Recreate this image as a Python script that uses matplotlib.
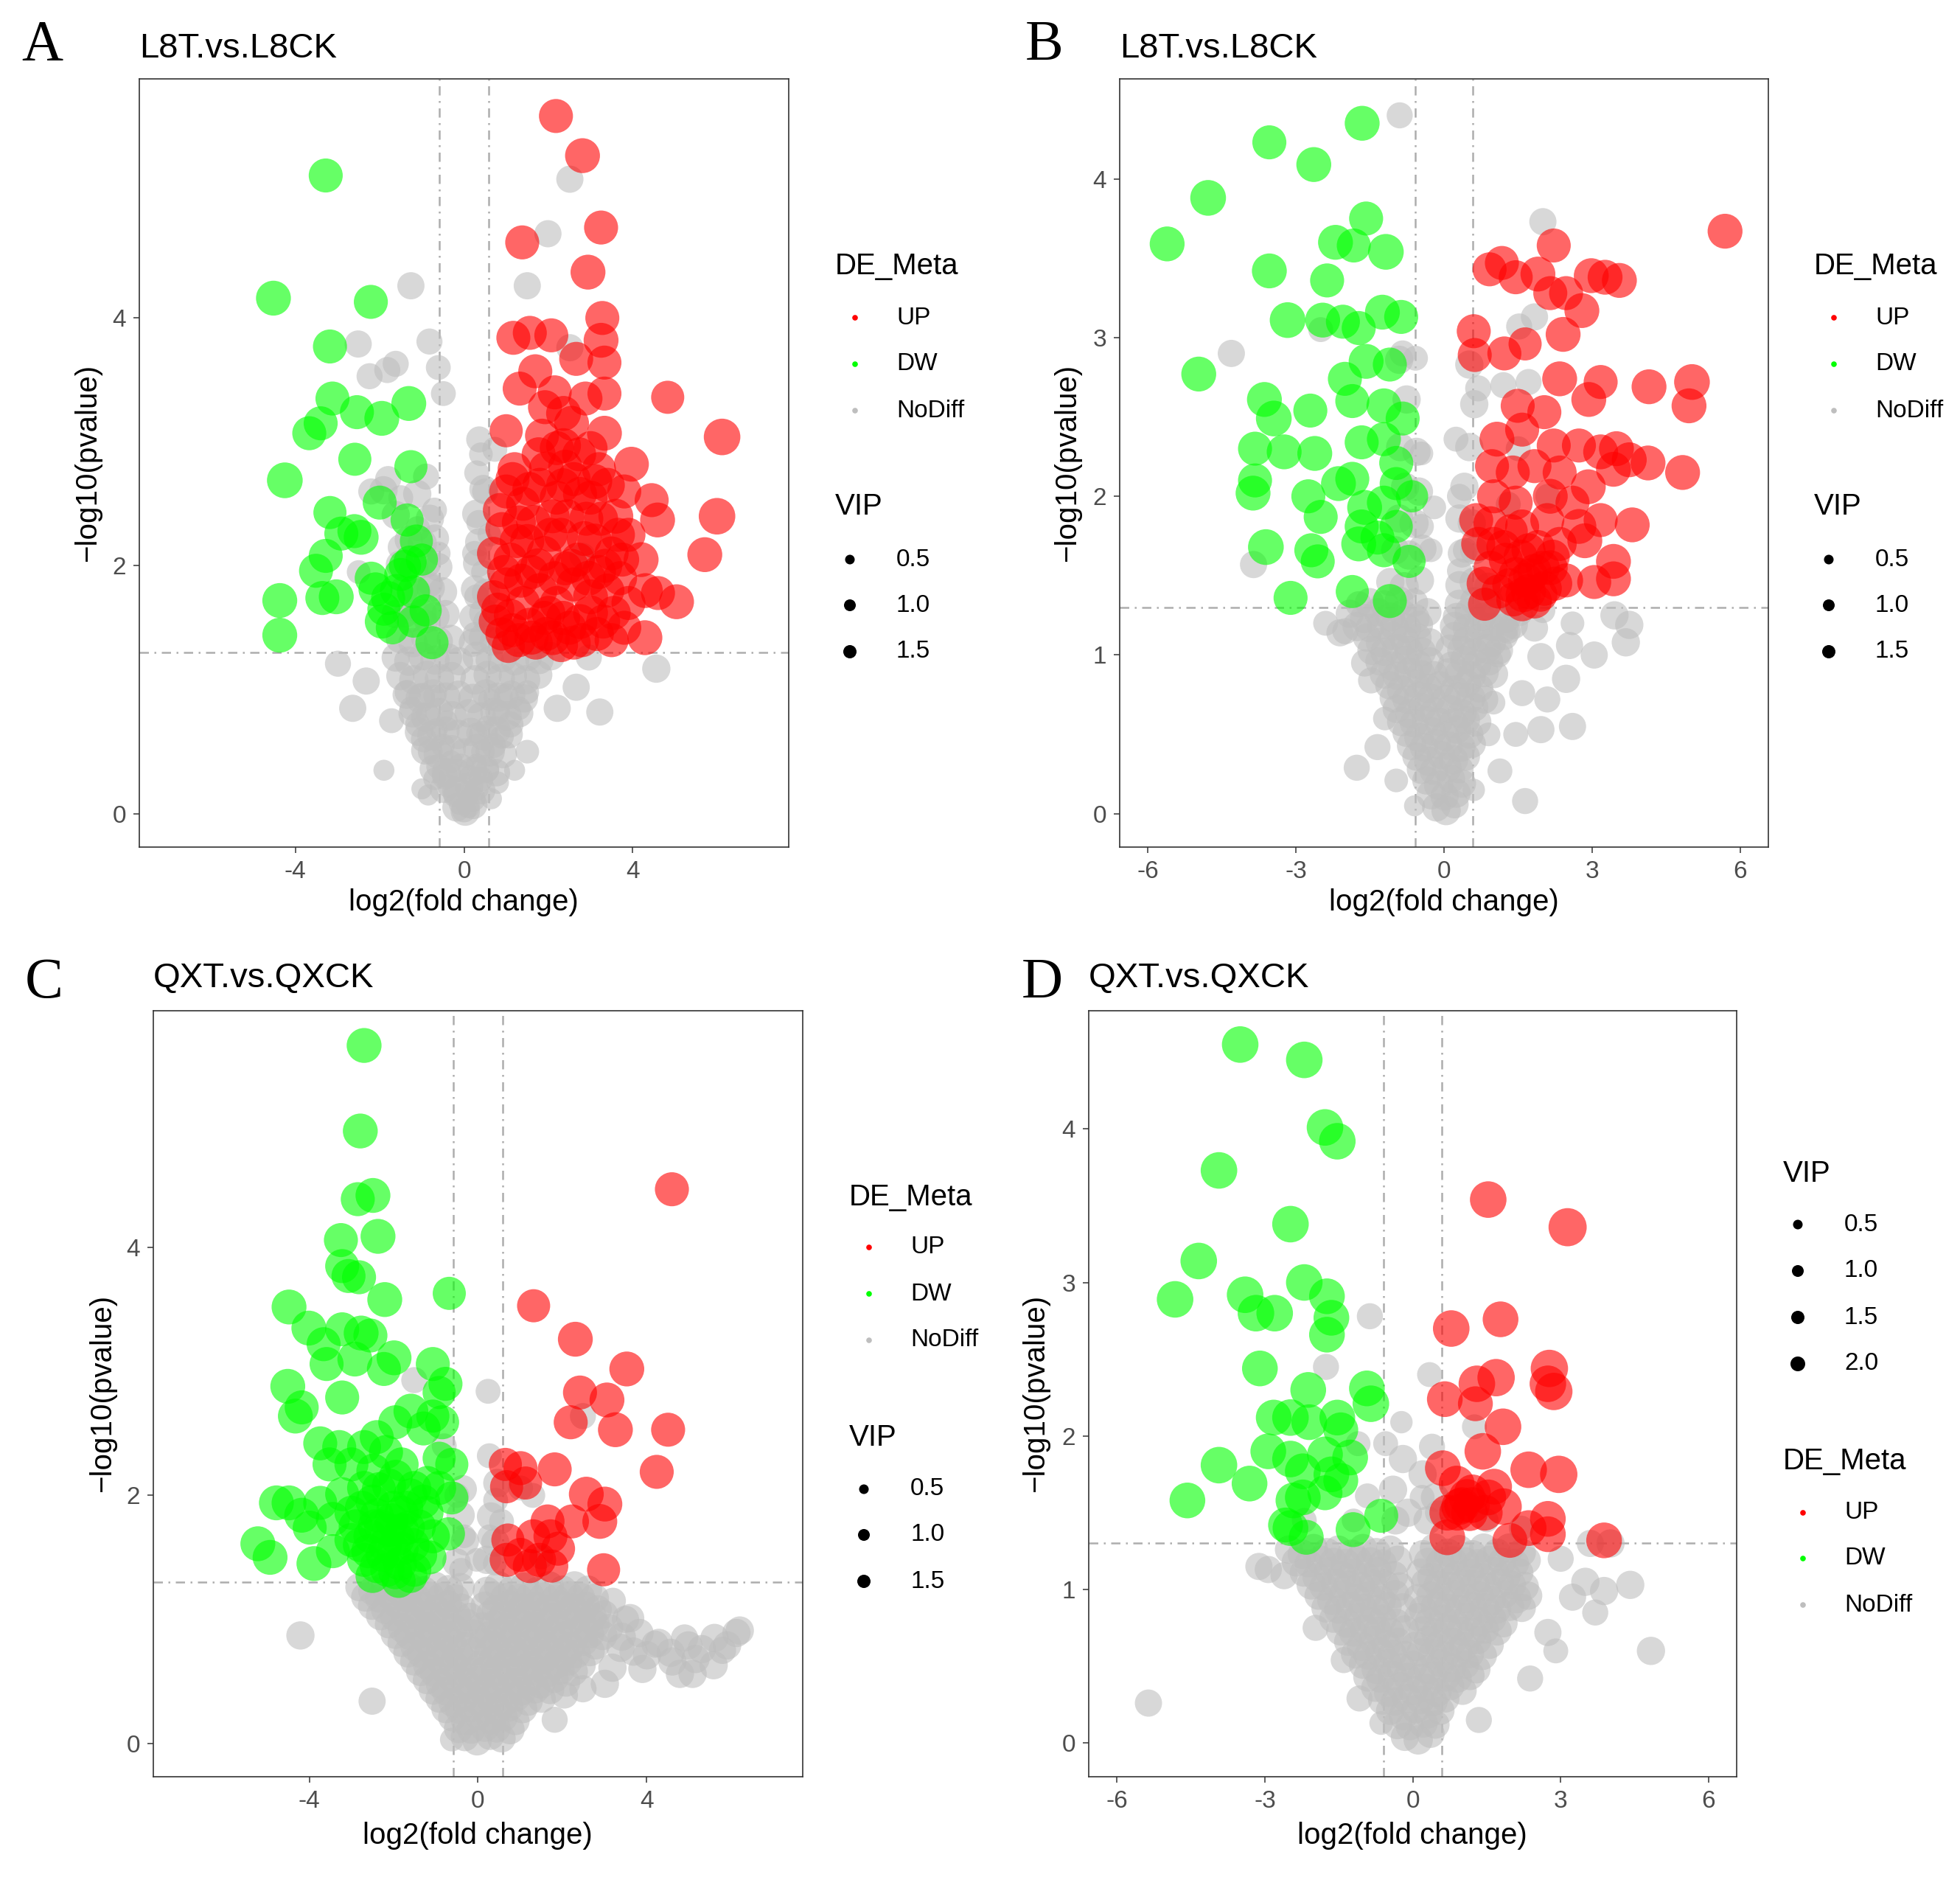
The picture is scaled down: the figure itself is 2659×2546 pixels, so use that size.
import matplotlib
matplotlib.use("Agg")
import matplotlib.pyplot as plt

plt.rcParams['font.family'] = ['Liberation Sans', 'DejaVu Sans']
plt.rcParams['axes.unicode_minus'] = False

RED, GREEN, GREY = '#FF0000', '#00FF00', '#BEBEBE'

# ---------------- data: (log2 fold change, -log10 p, VIP) ----------------
# panel A  L8T.vs.L8CK
a_up = [
    (2.18, 5.63, 1.5), (2.81, 5.31, 1.6), (3.25, 4.73, 1.5), (1.38, 4.61, 1.5), (2.94, 4.37, 1.6), (3.28, 4.00, 1.5),
    (3.25, 3.82, 1.6), (3.33, 3.64, 1.5), (1.17, 3.84, 1.5), (1.56, 3.88, 1.5), (2.07, 3.86, 1.5), (2.66, 3.67, 1.5),
    (1.69, 3.57, 1.5), (3.33, 3.39, 1.5), (4.83, 3.36, 1.4), (6.12, 3.04, 1.8), (1.32, 3.43, 1.5), (1.92, 3.28, 1.5),
    (2.36, 3.23, 1.6), (2.88, 3.35, 1.5), (3.33, 3.07, 1.6), (1.00, 3.09, 1.4), (1.77, 2.90, 1.5), (2.36, 2.97, 1.6),
    (2.73, 2.90, 1.5), (3.97, 2.82, 1.6), (6.00, 2.40, 1.8), (5.71, 2.09, 1.6), (5.04, 1.71, 1.6), (4.59, 2.37, 1.6),
    (4.45, 2.53, 1.5), (4.29, 1.42, 1.6),
    (0.9, 1.45, 1.4), (1.3, 1.40, 1.5), (1.7, 1.38, 1.5), (2.1, 1.42, 1.6), (2.5, 1.50, 1.5), (2.8, 1.40, 1.5),
    (3.3, 1.55, 1.5), (3.8, 1.50, 1.5), (1.1, 1.60, 1.4), (1.9, 1.58, 1.5), (3.0, 1.62, 1.6), (2.3, 1.36, 1.5),
    (0.7, 1.75, 1.4), (1.0, 1.85, 1.5), (1.4, 1.70, 1.5), (1.8, 1.80, 1.6), (2.2, 1.70, 1.5), (2.6, 1.85, 1.5),
    (3.0, 1.75, 1.6), (3.4, 1.80, 1.5), (3.9, 1.70, 1.5), (4.3, 1.80, 1.6), (1.6, 1.95, 1.5), (2.4, 1.98, 1.5),
    (3.2, 1.95, 1.5), (3.7, 1.90, 1.5), (0.8, 1.65, 1.4), (4.6, 1.78, 1.5),
    (0.7, 2.10, 1.4), (1.1, 2.05, 1.5), (1.5, 2.20, 1.5), (1.9, 2.10, 1.6), (2.3, 2.25, 1.5), (2.7, 2.05, 1.5),
    (3.1, 2.20, 1.6), (3.5, 2.10, 1.5), (3.9, 2.25, 1.5), (4.2, 2.05, 1.6), (1.3, 2.35, 1.5), (2.1, 2.40, 1.5),
    (2.9, 2.38, 1.5), (3.6, 2.40, 1.6), (0.9, 2.30, 1.4),
    (1.0, 2.60, 1.5), (1.4, 2.50, 1.5), (1.8, 2.65, 1.6), (2.2, 2.55, 1.5), (2.6, 2.70, 1.5), (3.0, 2.55, 1.5),
    (3.4, 2.65, 1.6), (3.8, 2.60, 1.5), (1.2, 2.78, 1.5), (2.4, 2.80, 1.5), (3.2, 2.78, 1.5),
    (0.75, 1.55, 1.5), (1.15, 1.48, 1.5), (1.55, 1.52, 1.6), (1.95, 1.45, 1.5), (2.35, 1.58, 1.5), (2.75, 1.55, 1.6),
    (3.15, 1.45, 1.5), (3.55, 1.62, 1.5), (0.95, 1.95, 1.5), (1.35, 1.88, 1.5), (1.75, 2.00, 1.6), (2.15, 1.90, 1.5),
    (2.55, 2.00, 1.5), (2.95, 1.90, 1.6), (3.35, 2.00, 1.5), (3.75, 2.05, 1.5), (0.85, 2.45, 1.5), (1.25, 2.20, 1.5),
    (1.65, 2.35, 1.6), (2.05, 2.25, 1.5), (2.45, 2.40, 1.5), (2.85, 2.22, 1.6), (3.25, 2.38, 1.5), (3.65, 2.25, 1.5),
    (1.15, 2.70, 1.5), (1.55, 2.62, 1.5), (1.95, 2.78, 1.6), (2.35, 2.65, 1.5), (2.75, 2.58, 1.5), (3.10, 2.68, 1.6),
    (1.60, 1.42, 1.5), (2.60, 1.38, 1.5), (1.05, 1.35, 1.4), (2.00, 1.62, 1.5), (3.50, 1.40, 1.5), (1.85, 3.05, 1.5),
    (2.15, 3.40, 1.5), (2.55, 3.15, 1.6), (2.20, 2.95, 1.5), (3.00, 2.95, 1.5),
]
a_dw = [
    (-3.28, 5.15, 1.5), (-4.52, 4.16, 1.6), (-2.21, 4.13, 1.5), (-3.18, 3.77, 1.5), (-3.12, 3.35, 1.5), (-1.31, 3.31, 1.6),
    (-2.54, 3.24, 1.5), (-1.95, 3.19, 1.6), (-3.40, 3.15, 1.5), (-3.67, 3.07, 1.5), (-2.59, 2.86, 1.4), (-1.26, 2.80, 1.4),
    (-4.25, 2.69, 1.7), (-2.00, 2.51, 1.5), (-3.18, 2.43, 1.4), (-1.35, 2.37, 1.4), (-2.91, 2.26, 1.5), (-2.44, 2.23, 1.6),
    (-2.60, 2.28, 1.5), (-3.28, 2.08, 1.5), (-1.13, 2.20, 1.4), (-3.51, 1.96, 1.5), (-2.10, 1.81, 1.5), (-4.37, 1.72, 1.6),
    (-3.36, 1.74, 1.5), (-3.03, 1.75, 1.6), (-1.80, 1.74, 1.5), (-1.20, 1.79, 1.4), (-1.95, 1.55, 1.5), (-4.37, 1.44, 1.6),
    (-0.76, 1.38, 1.4), (-0.91, 1.64, 1.3), (-1.50, 1.93, 1.4), (-1.28, 2.03, 1.4),
    (-1.9, 1.65, 1.4), (-1.6, 1.80, 1.4), (-1.4, 2.00, 1.3), (-2.2, 1.90, 1.4), (-1.7, 1.50, 1.4), (-1.2, 1.55, 1.3),
    (-1.0, 2.05, 1.3),
]
a_no = [
    (0.00, 0.03, 0.6), (0.10, 0.06, 0.5), (-0.10, 0.08, 0.4), (0.20, 0.12, 0.7), (-0.20, 0.15, 0.6), (0.05, 0.18, 0.3),
    (0.30, 0.20, 0.5), (-0.35, 0.22, 0.5), (0.40, 0.28, 0.6), (-0.45, 0.30, 0.7), (0.15, 0.30, 0.4), (-0.15, 0.35, 0.5),
    (0.55, 0.35, 0.5), (-0.60, 0.38, 0.6), (0.30, 0.40, 0.3), (-0.30, 0.42, 0.4), (-0.85, 0.15, 0.3), (-0.70, 0.28, 0.4),
    (0.80, 0.25, 0.4), (0.65, 0.12, 0.3),
    (-0.80, 0.50, 0.6), (-0.50, 0.55, 0.5), (0.45, 0.50, 0.5), (0.70, 0.55, 0.6), (-0.95, 0.60, 0.7), (0.90, 0.62, 0.5),
    (-0.65, 0.68, 0.4), (0.55, 0.70, 0.4), (-1.10, 0.72, 0.6), (1.10, 0.72, 0.7), (-0.85, 0.80, 0.5), (0.80, 0.82, 0.6),
    (-1.25, 0.85, 0.5), (1.30, 0.85, 0.5), (-0.40, 0.75, 0.3), (0.30, 0.65, 0.3), (-1.00, 0.95, 0.7), (1.00, 0.95, 0.6),
    (-1.35, 0.98, 0.6), (1.50, 0.98, 0.5), (-0.70, 0.95, 0.4), (0.60, 0.92, 0.4),
    (-2.64, 0.85, 0.8), (-1.72, 0.75, 0.6), (-2.99, 1.21, 0.7), (-2.32, 1.07, 0.8), (2.21, 0.85, 0.8), (3.22, 0.82, 0.8),
    (2.96, 1.26, 0.7), (2.66, 1.02, 0.8), (4.56, 1.17, 0.9), (-1.90, 0.35, 0.3), (-1.00, 0.20, 0.3), (1.50, 0.50, 0.5),
    (1.20, 0.35, 0.3),
    (-2.20, 2.60, 0.7), (-1.80, 2.70, 0.7), (-1.50, 2.55, 0.6), (-0.90, 2.72, 0.7), (-0.70, 2.45, 0.6), (-1.10, 2.30, 0.6),
    (-0.60, 2.10, 0.5), (-0.80, 1.85, 0.6), (-2.50, 1.95, 0.5), (-1.50, 2.15, 0.7), (-1.40, 1.60, 0.6), (-0.90, 1.55, 0.5),
    (2.51, 5.12, 0.8), (1.99, 4.68, 0.8), (1.50, 4.26, 0.8), (-1.26, 4.26, 0.8), (-2.51, 3.79, 0.8), (-0.82, 3.81, 0.7),
    (-0.61, 3.60, 0.6), (-1.62, 3.63, 0.7), (-1.82, 3.58, 0.7), (-2.24, 3.53, 0.7), (-0.49, 3.39, 0.6), (2.51, 3.76, 0.8),
    (0.36, 3.02, 0.7), (0.73, 2.94, 0.6), (2.81, 2.08, 0.7),
    (0.30, 2.75, 0.6), (0.50, 2.60, 0.7), (0.35, 2.35, 0.6), (0.25, 2.10, 0.6), (0.45, 1.95, 0.5), (0.30, 1.75, 0.6),
    (0.50, 1.55, 0.5), (0.25, 1.45, 0.5), (0.60, 2.25, 0.5), (0.40, 2.90, 0.5),
]
a_core = [
    (-0.18, 0.05, 0.9), (0.03, 0.02, 1.0), (0.22, 0.07, 0.9),
    (-0.48, 0.20, 0.9), (-0.17, 0.18, 1.0), (0.12, 0.22, 0.9), (0.41, 0.19, 0.9),
    (-0.72, 0.36, 0.9), (-0.42, 0.33, 1.0), (-0.08, 0.37, 0.9), (0.21, 0.34, 1.0), (0.50, 0.36, 0.9), (0.77, 0.33, 0.8),
    (-0.92, 0.51, 0.9), (-0.61, 0.48, 1.0), (-0.29, 0.52, 0.9), (0.02, 0.49, 1.0), (0.31, 0.53, 0.9), (0.62, 0.50, 1.0),
    (0.92, 0.48, 0.9),
    (-1.07, 0.66, 0.9), (-0.76, 0.63, 1.0), (-0.44, 0.67, 0.9), (-0.14, 0.64, 1.0), (0.16, 0.66, 0.9), (0.46, 0.63, 1.0),
    (0.77, 0.67, 0.9), (1.06, 0.64, 0.9),
    (-1.22, 0.81, 0.9), (-0.91, 0.78, 1.0), (-0.59, 0.82, 0.9), (-0.28, 0.79, 1.0), (0.11, 0.81, 0.9), (0.41, 0.78, 1.0),
    (0.72, 0.82, 0.9), (1.02, 0.79, 1.0), (1.31, 0.81, 0.9),
    (-1.36, 0.96, 0.9), (-1.04, 0.93, 1.0), (-0.74, 0.97, 0.9), (-0.43, 0.94, 1.0), (-0.13, 0.96, 0.9), (0.21, 0.93, 1.0),
    (0.52, 0.97, 0.9), (0.81, 0.94, 1.0), (1.12, 0.96, 0.9), (1.42, 0.93, 0.9),
    (-1.51, 1.11, 0.9), (-1.19, 1.08, 1.0), (-0.88, 1.12, 0.9), (-0.58, 1.09, 1.0), (-0.29, 1.11, 0.9), (0.26, 1.08, 1.0),
    (0.56, 1.12, 0.9), (0.86, 1.09, 1.0), (1.16, 1.11, 0.9), (1.46, 1.08, 1.0), (1.76, 1.12, 0.9),
    (-1.62, 1.26, 0.9), (-1.31, 1.23, 1.0), (-0.99, 1.27, 0.9), (-0.69, 1.24, 1.0), (-0.38, 1.26, 0.9), (-0.12, 1.23, 0.9),
    (0.31, 1.27, 1.0), (0.61, 1.24, 0.9), (0.91, 1.26, 1.0), (1.21, 1.23, 0.9), (1.51, 1.27, 1.0), (1.79, 1.24, 0.9),
    (2.06, 1.27, 0.9),
    (-1.52, 1.41, 0.9), (-1.21, 1.38, 1.0), (-0.92, 1.42, 0.9), (-0.61, 1.39, 1.0), (-0.31, 1.41, 0.9), (0.21, 1.38, 0.9),
    (0.46, 1.42, 1.0), (0.71, 1.39, 0.9),
    (-1.62, 1.61, 0.9), (-1.29, 1.58, 1.0), (-0.98, 1.62, 0.9), (-0.69, 1.59, 1.0), (-0.44, 1.61, 0.9), (0.22, 1.58, 0.9),
    (0.47, 1.62, 1.0),
    (-1.41, 1.81, 0.9), (-1.12, 1.78, 1.0), (-0.79, 1.82, 0.9), (-0.51, 1.79, 1.0), (0.26, 1.81, 0.9), (0.52, 1.78, 0.9),
    (-1.52, 2.01, 0.9), (-1.19, 1.98, 1.0), (-0.88, 2.02, 0.9), (-0.61, 1.99, 0.9), (0.31, 2.02, 0.9),
    (-1.31, 2.21, 0.9), (-0.99, 2.18, 1.0), (-0.69, 2.22, 0.9), (0.36, 2.19, 0.9),
    (-1.62, 2.41, 0.9), (-0.81, 2.38, 0.9), (0.29, 2.42, 0.9),
    (-1.91, 2.61, 0.9), (-1.11, 2.58, 0.9), (0.46, 2.62, 0.9),
]

# panel B  L8T.vs.L8CK
b_up = [
    (5.69, 3.67, 1.6), (2.22, 3.58, 1.5), (0.92, 3.43, 1.5), (1.17, 3.47, 1.5), (1.45, 3.38, 1.5), (1.90, 3.40, 1.6),
    (2.15, 3.28, 1.5), (2.47, 3.28, 1.5), (2.98, 3.39, 1.6), (3.26, 3.38, 1.6), (3.55, 3.36, 1.6), (2.79, 3.17, 1.6),
    (0.60, 3.04, 1.5), (2.41, 3.02, 1.6), (1.64, 2.96, 1.4), (0.62, 2.89, 1.5), (1.22, 2.90, 1.5), (2.34, 2.74, 1.6),
    (3.17, 2.72, 1.5), (4.15, 2.69, 1.6), (5.02, 2.72, 1.7), (4.96, 2.57, 1.6), (2.93, 2.61, 1.6), (1.49, 2.57, 1.5),
    (2.03, 2.53, 1.5), (1.07, 2.36, 1.6), (1.58, 2.42, 1.5), (2.22, 2.32, 1.5), (2.73, 2.32, 1.5), (3.17, 2.28, 1.6),
    (3.49, 2.30, 1.6), (3.75, 2.23, 1.6), (4.13, 2.21, 1.6), (4.83, 2.15, 1.6), (3.43, 2.17, 1.6), (0.97, 2.19, 1.5),
    (1.39, 2.15, 1.5), (1.83, 2.19, 1.5), (2.34, 2.15, 1.5), (2.92, 2.06, 1.6), (1.01, 2.00, 1.5), (1.45, 1.96, 1.5),
    (2.15, 2.00, 1.6), (2.60, 1.96, 1.5), (0.65, 1.85, 1.5), (0.94, 1.83, 1.5), (1.58, 1.81, 1.5), (2.09, 1.85, 1.5),
    (2.73, 1.81, 1.6), (3.17, 1.85, 1.5), (3.81, 1.82, 1.6), (0.69, 1.70, 1.5), (1.20, 1.68, 1.5), (1.71, 1.66, 1.5),
    (2.34, 1.70, 1.5), (2.85, 1.72, 1.6), (3.43, 1.59, 1.6), (0.94, 1.55, 1.5), (1.45, 1.51, 1.5), (1.83, 1.53, 1.5),
    (2.15, 1.55, 1.6), (1.32, 1.44, 1.5), (1.71, 1.40, 1.6), (2.03, 1.42, 1.6), (3.43, 1.48, 1.6), (3.04, 1.46, 1.5),
    (0.82, 1.32, 1.4), (1.58, 1.32, 1.5), (1.83, 1.34, 1.6), (2.47, 1.47, 1.5),
    (1.10, 1.40, 1.5), (1.40, 1.35, 1.5), (1.65, 1.47, 1.6), (1.95, 1.38, 1.5), (2.25, 1.45, 1.5), (1.25, 1.60, 1.5),
    (1.55, 1.62, 1.5), (1.90, 1.68, 1.5), (2.20, 1.62, 1.5), (0.80, 1.45, 1.5), (1.00, 1.70, 1.5), (1.35, 1.78, 1.5),
    (1.75, 1.50, 1.6), (2.00, 1.55, 1.5), (1.60, 1.38, 1.6),
]
b_dw = [
    (-1.66, 4.35, 1.6), (-3.54, 4.23, 1.5), (-2.64, 4.09, 1.6), (-4.78, 3.88, 1.7), (-5.61, 3.59, 1.6), (-1.58, 3.75, 1.5),
    (-2.20, 3.60, 1.6), (-1.83, 3.58, 1.5), (-1.18, 3.54, 1.7), (-3.54, 3.42, 1.6), (-2.37, 3.36, 1.5), (-3.17, 3.11, 1.7),
    (-2.46, 3.11, 1.6), (-2.05, 3.10, 1.5), (-1.73, 3.06, 1.5), (-1.25, 3.16, 1.6), (-0.87, 3.13, 1.5), (-4.97, 2.77, 1.6),
    (-3.64, 2.61, 1.6), (-3.45, 2.49, 1.7), (-2.71, 2.54, 1.5), (-2.01, 2.74, 1.5), (-1.58, 2.85, 1.6), (-1.10, 2.83, 1.5),
    (-1.86, 2.60, 1.5), (-1.22, 2.57, 1.6), (-0.84, 2.49, 1.5), (-1.67, 2.34, 1.5), (-3.83, 2.30, 1.5), (-3.24, 2.28, 1.6),
    (-2.62, 2.27, 1.6), (-1.22, 2.36, 1.5), (-0.97, 2.21, 1.5), (-3.83, 2.10, 1.5), (-3.87, 2.02, 1.6), (-2.75, 2.00, 1.5),
    (-2.14, 2.08, 1.6), (-1.86, 2.11, 1.5), (-1.61, 1.93, 1.6), (-1.22, 1.96, 1.5), (-0.97, 2.08, 1.4), (-2.50, 1.87, 1.5),
    (-1.67, 1.81, 1.5), (-1.35, 1.74, 1.5), (-0.97, 1.81, 1.4), (-0.65, 2.00, 1.3), (-3.61, 1.68, 1.7), (-2.69, 1.66, 1.5),
    (-2.56, 1.59, 1.5), (-1.73, 1.70, 1.6), (-1.22, 1.66, 1.5), (-0.71, 1.59, 1.4), (-3.11, 1.36, 1.5), (-1.10, 1.34, 1.5),
    (-1.86, 1.40, 1.4),
]
b_no = [
    (-0.90, 4.40, 0.7), (2.00, 3.73, 0.8), (-4.31, 2.90, 0.8), (1.52, 3.07, 0.7), (1.83, 3.13, 0.8), (-0.84, 2.90, 0.7),
    (-0.58, 2.87, 0.6), (0.69, 2.68, 0.7), (1.20, 2.70, 0.7), (1.71, 2.72, 0.7), (0.24, 2.36, 0.6), (-0.46, 2.27, 0.5),
    (0.31, 2.00, 0.6), (-0.20, 1.93, 0.5), (-0.46, 1.81, 0.6), (-0.27, 1.66, 0.5), (0.43, 1.66, 0.6), (0.31, 1.53, 0.6),
    (-3.86, 1.57, 0.8), (-1.73, 1.32, 0.7), (3.45, 1.25, 0.9), (3.75, 1.19, 0.9), (3.68, 1.08, 0.9), (3.04, 1.00, 0.8),
    (2.54, 1.06, 0.8), (1.96, 0.99, 0.8), (2.47, 0.85, 0.9), (1.83, 1.17, 0.8), (1.58, 0.76, 0.7), (2.09, 0.72, 0.7),
    (2.60, 0.55, 0.8), (1.96, 0.53, 0.8), (1.45, 0.50, 0.6), (1.13, 0.27, 0.6), (1.64, 0.08, 0.7), (-1.77, 0.29, 0.7),
    (-1.35, 0.42, 0.7), (-0.97, 0.21, 0.5), (-2.11, 1.14, 0.8), (-1.61, 0.95, 0.8), (-1.48, 0.84, 0.7),
    (2.00, 1.28, 0.6), (2.60, 1.20, 0.5), (-2.40, 1.20, 0.6), (-1.20, 0.60, 0.5), (0.90, 0.50, 0.5), (1.00, 0.70, 0.5),
    (-0.60, 0.05, 0.3), (0.60, 0.15, 0.4), (-2.50, 3.05, 0.6), (1.50, 2.30, 0.6), (2.10, 2.00, 0.6), (1.30, 1.95, 0.6),
    (1.10, 1.00, 0.6), (1.30, 1.15, 0.6), (-2.00, 1.15, 0.7),
]
b_core = [
    (-0.16, 0.04, 0.9), (0.04, 0.02, 1.0), (0.21, 0.06, 0.9),
    (-0.36, 0.21, 0.9), (-0.11, 0.18, 1.0), (0.14, 0.22, 0.9), (0.36, 0.19, 0.9),
    (-0.56, 0.36, 0.9), (-0.31, 0.33, 1.0), (-0.06, 0.37, 0.9), (0.19, 0.34, 1.0), (0.44, 0.36, 0.9),
    (-0.76, 0.51, 0.9), (-0.51, 0.48, 1.0), (-0.24, 0.52, 0.9), (0.01, 0.49, 1.0), (0.26, 0.53, 0.9), (0.51, 0.50, 0.9),
    (-0.96, 0.66, 0.9), (-0.69, 0.63, 1.0), (-0.44, 0.67, 0.9), (-0.19, 0.64, 1.0), (0.11, 0.66, 0.9), (0.36, 0.63, 1.0),
    (0.61, 0.67, 0.9),
    (-1.11, 0.81, 0.9), (-0.86, 0.78, 1.0), (-0.59, 0.82, 0.9), (-0.34, 0.79, 1.0), (-0.09, 0.81, 0.9), (0.21, 0.78, 1.0),
    (0.46, 0.82, 0.9), (0.71, 0.79, 0.9),
    (-1.31, 0.96, 0.9), (-1.04, 0.93, 1.0), (-0.79, 0.97, 0.9), (-0.54, 0.94, 1.0), (-0.29, 0.96, 0.9), (0.16, 0.93, 1.0),
    (0.41, 0.97, 0.9), (0.66, 0.94, 1.0), (0.91, 0.96, 0.9),
    (-1.56, 1.11, 0.9), (-1.29, 1.08, 1.0), (-1.04, 1.12, 0.9), (-0.79, 1.09, 1.0), (-0.54, 1.11, 0.9), (-0.29, 1.08, 0.9),
    (0.21, 1.12, 0.9), (0.46, 1.09, 1.0), (0.71, 1.11, 0.9), (0.96, 1.08, 1.0), (1.21, 1.12, 0.9),
    (-1.91, 1.26, 0.9), (-1.61, 1.23, 1.0), (-1.34, 1.27, 0.9), (-1.09, 1.24, 1.0), (-0.84, 1.26, 0.9), (-0.59, 1.23, 1.0),
    (-0.34, 1.27, 0.9), (0.26, 1.24, 0.9), (0.51, 1.27, 1.0), (0.76, 1.24, 0.9), (1.01, 1.26, 1.0), (1.26, 1.23, 0.9),
    (1.51, 1.27, 0.9),
    (-1.09, 1.46, 0.9), (-0.81, 1.43, 1.0), (-0.49, 1.47, 0.9), (0.31, 1.44, 0.9), (0.61, 1.46, 1.0), (0.89, 1.43, 0.9),
    (-0.99, 1.66, 0.9), (-0.71, 1.63, 1.0), (-0.44, 1.67, 0.9), (0.36, 1.64, 0.9), (0.61, 1.66, 0.9),
    (-0.91, 1.86, 0.9), (-0.61, 1.83, 1.0), (0.31, 1.86, 0.9), (0.56, 1.83, 0.9),
    (-0.79, 2.06, 0.9), (-0.51, 2.03, 0.9), (0.41, 2.06, 0.9),
    (-0.89, 2.31, 0.9), (-0.56, 2.28, 0.9), (0.51, 2.31, 0.9),
    (-0.76, 2.61, 0.9), (0.61, 2.58, 0.9), (-0.91, 2.86, 0.9), (0.51, 2.83, 0.9),
]
b_core2 = [
    (-0.26, 0.12, 1.0), (0.01, 0.11, 0.9), (0.24, 0.13, 1.0),
    (-0.46, 0.28, 1.0), (-0.21, 0.27, 0.9), (0.06, 0.29, 1.0), (0.31, 0.28, 0.9),
    (-0.66, 0.43, 1.0), (-0.41, 0.42, 0.9), (-0.16, 0.44, 1.0), (0.09, 0.43, 0.9), (0.34, 0.42, 1.0), (0.56, 0.44, 0.9),
    (-0.86, 0.58, 1.0), (-0.61, 0.57, 0.9), (-0.36, 0.59, 1.0), (-0.11, 0.58, 0.9), (0.19, 0.57, 1.0), (0.44, 0.59, 0.9),
    (0.66, 0.58, 1.0),
    (-1.01, 0.73, 1.0), (-0.76, 0.72, 0.9), (-0.51, 0.74, 1.0), (-0.26, 0.73, 0.9), (0.04, 0.72, 1.0), (0.29, 0.74, 0.9),
    (0.54, 0.73, 1.0), (0.81, 0.72, 0.9),
    (-1.21, 0.88, 1.0), (-0.96, 0.87, 0.9), (-0.71, 0.89, 1.0), (-0.46, 0.88, 0.9), (-0.21, 0.87, 1.0), (0.09, 0.89, 0.9),
    (0.31, 0.88, 1.0), (0.56, 0.87, 0.9), (0.81, 0.89, 1.0), (1.01, 0.88, 0.9),
    (-1.46, 1.03, 1.0), (-1.21, 1.02, 0.9), (-0.96, 1.04, 1.0), (-0.71, 1.03, 0.9), (-0.46, 1.02, 1.0), (0.11, 1.04, 0.9),
    (0.36, 1.03, 1.0), (0.61, 1.02, 0.9), (0.86, 1.04, 1.0), (1.11, 1.03, 0.9),
    (-1.76, 1.18, 1.0), (-1.51, 1.17, 0.9), (-1.26, 1.19, 1.0), (-1.01, 1.18, 0.9), (-0.76, 1.17, 1.0), (-0.51, 1.19, 0.9),
    (0.21, 1.18, 1.0), (0.46, 1.17, 0.9), (0.71, 1.19, 1.0), (0.96, 1.18, 0.9), (1.21, 1.17, 1.0), (1.41, 1.19, 0.9),
    (-1.51, 1.33, 1.0), (-1.21, 1.32, 0.9), (-0.91, 1.34, 1.0), (-0.61, 1.33, 0.9), (0.31, 1.32, 1.0), (0.61, 1.34, 0.9),
    (0.91, 1.33, 1.0),
]

# panel C  QXT.vs.QXCK
c_up = [
    (4.60, 4.47, 1.5), (1.32, 3.53, 1.4), (2.31, 3.26, 1.6), (3.53, 3.02, 1.6), (2.42, 2.83, 1.5), (3.06, 2.77, 1.6),
    (2.20, 2.59, 1.5), (3.26, 2.53, 1.6), (4.51, 2.53, 1.5), (4.24, 2.19, 1.5), (0.65, 2.25, 1.4), (1.01, 2.22, 1.5),
    (0.68, 2.07, 1.4), (1.13, 2.10, 1.4), (1.82, 2.21, 1.5), (2.57, 2.01, 1.6), (3.01, 1.93, 1.6), (2.89, 1.79, 1.6),
    (2.23, 1.79, 1.5), (1.65, 1.79, 1.5), (1.72, 1.67, 1.5), (1.31, 1.67, 1.5), (0.71, 1.64, 1.4), (0.68, 1.48, 1.5),
    (1.01, 1.52, 1.5), (1.45, 1.48, 1.5), (1.90, 1.57, 1.5), (1.23, 1.43, 1.5), (1.75, 1.43, 1.4), (2.98, 1.40, 1.4),
]
c_dw = [
    (-2.70, 5.63, 1.6), (-2.79, 4.94, 1.6), (-2.49, 4.42, 1.6), (-2.85, 4.39, 1.5), (-3.25, 4.06, 1.5), (-2.37, 4.09, 1.6),
    (-3.22, 3.85, 1.5), (-3.07, 3.77, 1.5), (-2.82, 3.76, 1.5), (-2.21, 3.58, 1.6), (-0.68, 3.63, 1.4), (-4.48, 3.52, 1.6),
    (-4.01, 3.35, 1.6), (-3.22, 3.34, 1.5), (-2.77, 3.31, 1.6), (-2.55, 3.29, 1.5), (-3.66, 3.22, 1.5), (-3.59, 3.06, 1.5),
    (-2.92, 3.10, 1.6), (-1.99, 3.11, 1.6), (-2.23, 3.02, 1.5), (-1.07, 3.06, 1.5), (-0.77, 2.90, 1.5), (-0.92, 2.83, 1.4),
    (-4.51, 2.88, 1.6), (-4.18, 2.71, 1.5), (-4.33, 2.64, 1.6), (-3.22, 2.79, 1.5), (-1.59, 2.68, 1.6), (-1.96, 2.59, 1.5),
    (-1.29, 2.54, 1.5), (-0.85, 2.59, 1.5), (-1.07, 2.64, 1.4), (-3.74, 2.42, 1.5), (-3.29, 2.39, 1.5), (-2.70, 2.39, 1.5),
    (-2.40, 2.47, 1.5), (-2.18, 2.35, 1.5), (-3.52, 2.25, 1.5), (-3.00, 2.25, 1.5), (-2.48, 2.20, 1.5), (-1.81, 2.25, 1.5),
    (-0.92, 2.30, 1.4), (-0.62, 2.25, 1.4), (-4.78, 1.94, 1.6), (-4.48, 1.94, 1.6), (-4.18, 1.84, 1.6), (-3.74, 1.94, 1.5),
    (-3.22, 2.01, 1.5), (-2.70, 2.06, 1.5), (-2.11, 2.08, 1.5), (-1.51, 2.06, 1.5), (-0.92, 2.06, 1.5), (-0.62, 1.98, 1.4),
    (-3.99, 1.74, 1.5), (-3.44, 1.81, 1.5), (-3.00, 1.86, 1.5), (-2.40, 1.84, 1.5), (-1.81, 1.86, 1.5), (-1.22, 1.86, 1.5),
    (-5.22, 1.61, 1.6), (-4.93, 1.50, 1.6), (-3.89, 1.45, 1.6), (-3.44, 1.55, 1.5), (-3.00, 1.64, 1.5), (-2.55, 1.67, 1.5),
    (-2.11, 1.72, 1.5), (-1.66, 1.74, 1.5), (-1.07, 1.67, 1.5), (-0.70, 1.69, 1.4), (-2.70, 1.48, 1.5), (-2.26, 1.52, 1.5),
    (-1.81, 1.57, 1.5), (-1.37, 1.52, 1.5), (-1.96, 1.38, 1.5), (-2.40, 1.43, 1.5), (-1.51, 1.40, 1.5), (-1.88, 1.31, 1.5),
    (-2.30, 1.75, 1.5), (-1.90, 1.65, 1.5), (-2.00, 1.90, 1.5), (-1.60, 2.00, 1.5), (-2.50, 1.95, 1.5), (-1.40, 1.75, 1.5),
    (-1.20, 2.10, 1.5), (-2.80, 1.60, 1.5),
    (-2.60, 1.55, 1.5), (-2.20, 1.60, 1.5), (-1.85, 1.45, 1.5), (-1.55, 1.60, 1.5), (-2.45, 1.75, 1.5), (-2.05, 1.80, 1.5),
    (-1.70, 1.90, 1.5), (-1.30, 1.95, 1.5), (-2.75, 1.90, 1.5), (-2.35, 2.05, 1.5), (-1.95, 2.15, 1.5), (-1.60, 1.35, 1.5),
    (-2.15, 1.40, 1.5), (-1.15, 1.50, 1.5), (-2.90, 1.75, 1.5), (-1.80, 1.72, 1.5), (-2.00, 1.55, 1.5), (-2.50, 1.35, 1.5),
]
c_no = [
    (6.13, 0.89, 0.9), (5.61, 0.85, 0.9), (5.16, 0.68, 0.9), (5.09, 0.56, 0.9), (4.57, 0.73, 0.9), (3.90, 0.60, 0.9),
    (3.83, 0.89, 0.9), (3.38, 0.77, 0.9), (3.01, 0.48, 0.9), (2.49, 0.44, 0.8), (2.05, 0.39, 0.8), (4.20, 0.80, 0.8),
    (3.50, 1.00, 0.8), (3.20, 1.15, 0.7), (4.90, 0.85, 0.8), (5.80, 0.75, 0.8), (-4.21, 0.87, 0.9), (-2.51, 0.34, 0.8),
    (1.82, 0.19, 0.7), (-0.62, 0.03, 0.5),
    (0.24, 2.84, 0.6), (-1.51, 2.93, 0.7), (0.27, 2.32, 0.6), (0.42, 1.96, 0.6), (0.56, 1.79, 0.6), (0.27, 1.67, 0.5),
    (-0.03, 1.48, 0.5), (-0.33, 1.67, 0.5), (2.49, 2.64, 0.7), (1.01, 2.06, 0.6), (-0.40, 1.40, 0.5), (-0.50, 2.00, 0.6),
    (-0.80, 2.40, 0.6), (0.40, 1.45, 0.5), (1.50, 1.50, 0.5), (1.30, 2.00, 0.6),
    (3.41, 0.86, 0.9), (3.69, 0.74, 0.9), (4.01, 0.71, 0.9), (4.29, 0.81, 0.9), (4.61, 0.66, 0.9), (4.99, 0.79, 0.9),
    (5.31, 0.76, 0.9), (5.59, 0.63, 0.9), (5.91, 0.79, 0.9), (6.21, 0.91, 0.9), (3.19, 0.61, 0.9), (3.61, 1.01, 0.9),
    (4.79, 0.56, 0.9),
]
c_core = [
    (-0.31, 0.05, 0.9), (-0.02, 0.02, 1.0), (0.29, 0.06, 0.9), (0.56, 0.04, 0.9),
    (-0.61, 0.21, 0.9), (-0.29, 0.18, 1.0), (0.01, 0.22, 0.9), (0.31, 0.19, 1.0), (0.61, 0.21, 0.9), (0.89, 0.18, 0.9),
    (-0.91, 0.36, 0.9), (-0.59, 0.33, 1.0), (-0.31, 0.37, 0.9), (0.02, 0.34, 1.0), (0.29, 0.36, 0.9), (0.61, 0.33, 1.0),
    (0.91, 0.37, 0.9), (1.19, 0.34, 1.0), (1.51, 0.36, 0.9),
    (-1.21, 0.51, 0.9), (-0.89, 0.48, 1.0), (-0.61, 0.52, 0.9), (-0.29, 0.49, 1.0), (0.01, 0.51, 0.9), (0.31, 0.48, 1.0),
    (0.59, 0.52, 0.9), (0.91, 0.49, 1.0), (1.21, 0.51, 0.9), (1.49, 0.48, 1.0), (1.81, 0.52, 0.9), (2.09, 0.49, 0.9),
    (-1.51, 0.66, 0.9), (-1.19, 0.63, 1.0), (-0.91, 0.67, 0.9), (-0.59, 0.64, 1.0), (-0.31, 0.66, 0.9), (0.06, 0.63, 1.0),
    (0.34, 0.67, 0.9), (0.66, 0.64, 1.0), (0.94, 0.66, 0.9), (1.26, 0.63, 1.0), (1.54, 0.67, 0.9), (1.86, 0.64, 1.0),
    (2.14, 0.66, 0.9), (2.46, 0.63, 0.9),
    (-1.81, 0.81, 0.9), (-1.49, 0.78, 1.0), (-1.21, 0.82, 0.9), (-0.89, 0.79, 1.0), (-0.61, 0.81, 0.9), (-0.29, 0.78, 1.0),
    (0.11, 0.82, 0.9), (0.39, 0.79, 1.0), (0.71, 0.81, 0.9), (0.99, 0.78, 1.0), (1.31, 0.82, 0.9), (1.59, 0.79, 1.0),
    (1.91, 0.81, 0.9), (2.19, 0.78, 1.0), (2.51, 0.82, 0.9), (2.79, 0.79, 0.9),
    (-2.11, 0.96, 0.9), (-1.79, 0.93, 1.0), (-1.51, 0.97, 0.9), (-1.19, 0.94, 1.0), (-0.91, 0.96, 0.9), (-0.59, 0.93, 1.0),
    (-0.26, 0.97, 0.9), (0.11, 0.94, 1.0), (0.39, 0.96, 0.9), (0.71, 0.93, 1.0), (0.99, 0.97, 0.9), (1.31, 0.94, 1.0),
    (1.59, 0.96, 0.9), (1.91, 0.93, 1.0), (2.19, 0.97, 0.9), (2.51, 0.94, 1.0), (2.79, 0.96, 0.9), (3.11, 0.93, 0.9),
    (-2.51, 1.11, 0.9), (-2.19, 1.08, 1.0), (-1.91, 1.12, 0.9), (-1.59, 1.09, 1.0), (-1.31, 1.11, 0.9), (-0.99, 1.08, 1.0),
    (-0.71, 1.12, 0.9), (-0.39, 1.09, 1.0), (0.16, 1.11, 0.9), (0.44, 1.08, 1.0), (0.76, 1.12, 0.9), (1.04, 1.09, 1.0),
    (1.36, 1.11, 0.9), (1.64, 1.08, 1.0), (1.96, 1.12, 0.9), (2.24, 1.09, 1.0), (2.56, 1.11, 0.9), (2.84, 1.08, 0.9),
    (-2.81, 1.26, 0.9), (-2.49, 1.23, 1.0), (-2.21, 1.27, 0.9), (-1.89, 1.24, 1.0), (-1.61, 1.26, 0.9), (-1.29, 1.23, 1.0),
    (-1.01, 1.27, 0.9), (-0.69, 1.24, 1.0), (-0.41, 1.26, 0.9), (0.21, 1.23, 0.9), (0.49, 1.27, 1.0), (0.81, 1.24, 0.9),
    (1.09, 1.26, 1.0), (1.41, 1.23, 0.9), (1.69, 1.27, 1.0), (2.01, 1.24, 0.9), (2.29, 1.27, 1.0), (2.61, 1.24, 0.9),
    (-0.51, 1.46, 0.9), (-0.31, 1.63, 0.9), (0.21, 1.48, 0.9), (0.41, 1.62, 0.9), (-0.41, 1.84, 0.9), (0.31, 1.83, 0.9),
    (-0.36, 2.05, 0.9), (0.46, 2.10, 0.9),
]
c_core2 = [
    (-0.46, 0.12, 1.0), (-0.16, 0.11, 0.9), (0.16, 0.13, 1.0), (0.44, 0.12, 0.9), (0.76, 0.11, 1.0),
    (-0.76, 0.28, 1.0), (-0.44, 0.27, 0.9), (-0.16, 0.29, 1.0), (0.16, 0.28, 0.9), (0.46, 0.27, 1.0), (0.74, 0.29, 0.9),
    (1.06, 0.28, 1.0),
    (-1.06, 0.43, 1.0), (-0.76, 0.42, 0.9), (-0.44, 0.44, 1.0), (-0.16, 0.43, 0.9), (0.16, 0.42, 1.0), (0.44, 0.44, 0.9),
    (0.76, 0.43, 1.0), (1.04, 0.42, 0.9), (1.36, 0.44, 1.0), (1.71, 0.43, 0.9),
    (-1.36, 0.58, 1.0), (-1.04, 0.57, 0.9), (-0.76, 0.59, 1.0), (-0.44, 0.58, 0.9), (-0.16, 0.57, 1.0), (0.16, 0.59, 0.9),
    (0.44, 0.58, 1.0), (0.76, 0.57, 0.9), (1.04, 0.59, 1.0), (1.36, 0.58, 0.9), (1.64, 0.57, 1.0), (1.96, 0.59, 0.9),
    (2.26, 0.58, 1.0),
    (-1.66, 0.73, 1.0), (-1.34, 0.72, 0.9), (-1.06, 0.74, 1.0), (-0.74, 0.73, 0.9), (-0.46, 0.72, 1.0), (-0.11, 0.74, 0.9),
    (0.26, 0.73, 1.0), (0.54, 0.72, 0.9), (0.86, 0.74, 1.0), (1.14, 0.73, 0.9), (1.46, 0.72, 1.0), (1.74, 0.74, 0.9),
    (2.06, 0.73, 1.0), (2.34, 0.72, 0.9), (2.66, 0.74, 1.0),
    (-1.96, 0.88, 1.0), (-1.64, 0.87, 0.9), (-1.36, 0.89, 1.0), (-1.04, 0.88, 0.9), (-0.76, 0.87, 1.0), (-0.44, 0.89, 0.9),
    (-0.11, 0.88, 1.0), (0.26, 0.87, 0.9), (0.54, 0.89, 1.0), (0.86, 0.88, 0.9), (1.14, 0.87, 1.0), (1.46, 0.89, 0.9),
    (1.74, 0.88, 1.0), (2.06, 0.87, 0.9), (2.34, 0.89, 1.0), (2.66, 0.88, 0.9), (2.96, 0.87, 1.0),
    (-2.31, 1.03, 1.0), (-1.99, 1.02, 0.9), (-1.71, 1.04, 1.0), (-1.39, 1.03, 0.9), (-1.11, 1.02, 1.0), (-0.79, 1.04, 0.9),
    (-0.51, 1.03, 1.0), (-0.19, 1.02, 0.9), (0.31, 1.04, 1.0), (0.59, 1.03, 0.9), (0.91, 1.02, 1.0), (1.19, 1.04, 0.9),
    (1.51, 1.03, 1.0), (1.79, 1.02, 0.9), (2.11, 1.04, 1.0), (2.39, 1.03, 0.9), (2.71, 1.02, 1.0), (2.99, 1.04, 0.9),
    (-2.66, 1.18, 1.0), (-2.34, 1.17, 0.9), (-2.06, 1.19, 1.0), (-1.74, 1.18, 0.9), (-1.46, 1.17, 1.0), (-1.14, 1.19, 0.9),
    (-0.86, 1.18, 1.0), (-0.54, 1.17, 0.9), (0.36, 1.19, 1.0), (0.64, 1.18, 0.9), (0.96, 1.17, 1.0), (1.24, 1.19, 0.9),
    (1.56, 1.18, 1.0), (1.84, 1.17, 0.9), (2.16, 1.19, 1.0), (2.44, 1.18, 0.9), (2.76, 1.17, 1.0),
]

# panel D  QXT.vs.QXCK
d_up = [
    (1.53, 3.54, 1.8), (3.14, 3.36, 2.0), (0.78, 2.70, 1.8), (1.78, 2.76, 1.7), (2.77, 2.44, 1.9), (2.86, 2.29, 1.9),
    (2.74, 2.34, 1.8), (1.30, 2.34, 1.8), (1.69, 2.38, 1.9), (0.65, 2.24, 1.7), (1.27, 2.21, 1.6), (1.83, 2.06, 1.8),
    (1.42, 1.90, 1.8), (2.35, 1.78, 1.8), (2.96, 1.75, 1.9), (0.61, 1.79, 1.7), (0.89, 1.69, 1.7), (1.21, 1.63, 1.8),
    (1.65, 1.67, 1.7), (0.95, 1.54, 1.8), (0.70, 1.50, 1.7), (1.15, 1.50, 1.8), (1.53, 1.60, 1.7), (1.84, 1.54, 1.8),
    (1.46, 1.50, 1.7), (0.70, 1.34, 1.7), (2.35, 1.40, 1.7), (2.74, 1.46, 1.7), (2.74, 1.36, 1.7), (1.97, 1.32, 1.6),
    (3.88, 1.32, 1.7), (1.00, 1.55, 1.7), (1.10, 1.60, 1.8), (0.90, 1.50, 1.7), (1.20, 1.55, 1.7),
]
d_dw = [
    (-3.50, 4.55, 1.8), (-2.20, 4.45, 1.8), (-1.78, 4.01, 1.8), (-1.53, 3.92, 1.8), (-3.93, 3.73, 1.8), (-2.48, 3.38, 1.8),
    (-4.34, 3.14, 1.8), (-4.82, 2.89, 1.8), (-3.40, 2.92, 1.8), (-2.20, 3.00, 1.8), (-1.74, 2.91, 1.7), (-3.18, 2.80, 1.8),
    (-2.80, 2.80, 1.8), (-1.65, 2.77, 1.7), (-1.74, 2.66, 1.7), (-3.10, 2.44, 1.7), (-2.12, 2.30, 1.7), (-0.93, 2.31, 1.7),
    (-0.85, 2.21, 1.8), (-2.82, 2.12, 1.7), (-2.48, 2.12, 1.8), (-2.10, 2.09, 1.7), (-1.53, 2.12, 1.7), (-1.46, 2.04, 1.6),
    (-3.93, 1.81, 1.8), (-2.93, 1.90, 1.7), (-2.48, 1.85, 1.8), (-1.78, 1.88, 1.7), (-1.27, 1.86, 1.7), (-3.31, 1.69, 1.7),
    (-2.23, 1.77, 1.7), (-1.65, 1.75, 1.7), (-1.46, 1.71, 1.6), (-4.57, 1.58, 1.7), (-2.42, 1.58, 1.7), (-2.23, 1.60, 1.7),
    (-1.78, 1.63, 1.6), (-0.64, 1.48, 1.5), (-2.48, 1.40, 1.7), (-2.58, 1.42, 1.6), (-1.21, 1.39, 1.6), (-2.16, 1.34, 1.6),
]
d_no = [
    (-0.87, 2.78, 0.7), (-1.76, 2.45, 0.7), (0.34, 2.40, 0.6), (-0.23, 2.09, 0.4), (1.25, 2.06, 0.6), (-0.55, 1.95, 0.6),
    (0.39, 1.93, 0.7), (-1.11, 1.95, 0.6), (-0.92, 1.61, 0.6), (0.19, 1.60, 0.6), (-5.36, 0.26, 0.8), (4.83, 0.60, 0.9),
    (4.41, 1.03, 0.9), (3.88, 0.99, 0.9), (3.50, 1.05, 0.9), (3.24, 0.95, 0.8), (4.01, 1.30, 0.9), (2.74, 0.72, 0.8),
    (2.38, 0.42, 0.7), (1.34, 0.15, 0.7), (-1.08, 0.29, 0.7), (-0.64, 0.13, 0.5), (-1.97, 0.75, 0.7), (-1.40, 0.54, 0.7),
    (-2.93, 1.13, 0.8), (-2.61, 1.09, 0.8), (-3.12, 1.15, 0.8), (3.00, 1.20, 0.7), (3.70, 0.85, 0.7), (2.90, 0.60, 0.6),
    (-2.20, 1.45, 0.6), (-1.20, 1.45, 0.5), (0.50, 1.50, 0.6), (1.50, 1.45, 0.5), (2.20, 1.40, 0.6), (3.60, 1.30, 0.8),
]
d_core = [
    (-0.16, 0.04, 0.9), (0.11, 0.02, 1.0), (0.36, 0.06, 0.9),
    (-0.46, 0.21, 0.9), (-0.19, 0.18, 1.0), (0.06, 0.22, 0.9), (0.31, 0.19, 1.0), (0.56, 0.21, 0.9),
    (-0.76, 0.36, 0.9), (-0.49, 0.33, 1.0), (-0.26, 0.37, 0.9), (0.01, 0.34, 1.0), (0.26, 0.36, 0.9), (0.49, 0.33, 1.0),
    (0.76, 0.37, 0.9), (1.01, 0.34, 0.9),
    (-1.01, 0.51, 0.9), (-0.74, 0.48, 1.0), (-0.51, 0.52, 0.9), (-0.24, 0.49, 1.0), (0.01, 0.51, 0.9), (0.31, 0.48, 1.0),
    (0.56, 0.52, 0.9), (0.79, 0.49, 1.0), (1.06, 0.51, 0.9), (1.29, 0.48, 0.9),
    (-1.31, 0.66, 0.9), (-1.04, 0.63, 1.0), (-0.81, 0.67, 0.9), (-0.54, 0.64, 1.0), (-0.31, 0.66, 0.9), (0.06, 0.63, 1.0),
    (0.31, 0.67, 0.9), (0.54, 0.64, 1.0), (0.81, 0.66, 0.9), (1.04, 0.63, 1.0), (1.31, 0.67, 0.9), (1.56, 0.64, 0.9),
    (-1.61, 0.81, 0.9), (-1.34, 0.78, 1.0), (-1.11, 0.82, 0.9), (-0.84, 0.79, 1.0), (-0.61, 0.81, 0.9), (-0.34, 0.78, 1.0),
    (0.11, 0.82, 0.9), (0.34, 0.79, 1.0), (0.61, 0.81, 0.9), (0.84, 0.78, 1.0), (1.11, 0.82, 0.9), (1.34, 0.79, 1.0),
    (1.61, 0.81, 0.9), (1.84, 0.78, 0.9),
    (-1.91, 0.96, 0.9), (-1.64, 0.93, 1.0), (-1.41, 0.97, 0.9), (-1.14, 0.94, 1.0), (-0.91, 0.96, 0.9), (-0.64, 0.93, 1.0),
    (-0.36, 0.97, 0.9), (0.11, 0.94, 1.0), (0.36, 0.96, 0.9), (0.59, 0.93, 1.0), (0.86, 0.97, 0.9), (1.09, 0.94, 1.0),
    (1.36, 0.96, 0.9), (1.59, 0.93, 1.0), (1.86, 0.97, 0.9), (2.11, 0.94, 1.0), (2.34, 0.96, 0.9),
    (-2.21, 1.11, 0.9), (-1.94, 1.08, 1.0), (-1.71, 1.12, 0.9), (-1.44, 1.09, 1.0), (-1.21, 1.11, 0.9), (-0.94, 1.08, 1.0),
    (-0.71, 1.12, 0.9), (-0.39, 1.09, 1.0), (0.16, 1.11, 0.9), (0.39, 1.08, 1.0), (0.66, 1.12, 0.9), (0.89, 1.09, 1.0),
    (1.16, 1.11, 0.9), (1.39, 1.08, 1.0), (1.66, 1.12, 0.9), (1.89, 1.09, 1.0), (2.16, 1.11, 0.9),
    (-2.51, 1.26, 0.9), (-2.24, 1.23, 1.0), (-2.01, 1.27, 0.9), (-1.74, 1.24, 1.0), (-1.51, 1.26, 0.9), (-1.24, 1.23, 1.0),
    (-1.01, 1.27, 0.9), (-0.74, 1.24, 1.0), (-0.46, 1.26, 0.9), (0.21, 1.23, 0.9), (0.44, 1.27, 1.0), (0.71, 1.24, 0.9),
    (0.94, 1.26, 1.0), (1.21, 1.23, 0.9), (1.44, 1.27, 1.0), (1.71, 1.24, 0.9), (1.96, 1.27, 1.0), (2.21, 1.24, 0.9),
    (-0.35, 1.45, 0.9), (-0.10, 1.50, 0.9), (0.30, 1.45, 0.9), (0.45, 1.60, 0.9), (-0.40, 1.65, 0.9), (0.20, 1.75, 0.9),
    (-0.20, 1.85, 0.9),
]
d_core2 = [
    (-0.31, 0.12, 1.0), (-0.06, 0.11, 0.9), (0.21, 0.13, 1.0), (0.46, 0.12, 0.9),
    (-0.61, 0.28, 1.0), (-0.36, 0.27, 0.9), (-0.11, 0.29, 1.0), (0.16, 0.28, 0.9), (0.41, 0.27, 1.0), (0.66, 0.29, 0.9),
    (-0.91, 0.43, 1.0), (-0.66, 0.42, 0.9), (-0.41, 0.44, 1.0), (-0.11, 0.43, 0.9), (0.16, 0.42, 1.0), (0.41, 0.44, 0.9),
    (0.66, 0.43, 1.0), (0.91, 0.42, 0.9), (1.16, 0.44, 1.0),
    (-1.16, 0.58, 1.0), (-0.91, 0.57, 0.9), (-0.66, 0.59, 1.0), (-0.41, 0.58, 0.9), (-0.16, 0.57, 1.0), (0.16, 0.59, 0.9),
    (0.41, 0.58, 1.0), (0.66, 0.57, 0.9), (0.91, 0.59, 1.0), (1.16, 0.58, 0.9), (1.41, 0.57, 1.0),
    (-1.46, 0.73, 1.0), (-1.21, 0.72, 0.9), (-0.96, 0.74, 1.0), (-0.71, 0.73, 0.9), (-0.46, 0.72, 1.0), (-0.16, 0.74, 0.9),
    (0.21, 0.73, 1.0), (0.46, 0.72, 0.9), (0.71, 0.74, 1.0), (0.96, 0.73, 0.9), (1.21, 0.72, 1.0), (1.46, 0.74, 0.9),
    (1.71, 0.73, 1.0),
    (-1.76, 0.88, 1.0), (-1.51, 0.87, 0.9), (-1.26, 0.89, 1.0), (-1.01, 0.88, 0.9), (-0.76, 0.87, 1.0), (-0.51, 0.89, 0.9),
    (-0.21, 0.88, 1.0), (0.21, 0.87, 0.9), (0.46, 0.89, 1.0), (0.71, 0.88, 0.9), (0.96, 0.87, 1.0), (1.21, 0.89, 0.9),
    (1.46, 0.88, 1.0), (1.71, 0.87, 0.9), (1.96, 0.89, 1.0), (2.21, 0.88, 0.9),
    (-2.06, 1.03, 1.0), (-1.81, 1.02, 0.9), (-1.56, 1.04, 1.0), (-1.31, 1.03, 0.9), (-1.06, 1.02, 1.0), (-0.81, 1.04, 0.9),
    (-0.56, 1.03, 1.0), (-0.26, 1.02, 0.9), (0.26, 1.04, 1.0), (0.51, 1.03, 0.9), (0.76, 1.02, 1.0), (1.01, 1.04, 0.9),
    (1.26, 1.03, 1.0), (1.51, 1.02, 0.9), (1.76, 1.04, 1.0), (2.01, 1.03, 0.9), (2.26, 1.02, 1.0),
    (-2.36, 1.18, 1.0), (-2.11, 1.17, 0.9), (-1.86, 1.19, 1.0), (-1.61, 1.18, 0.9), (-1.36, 1.17, 1.0), (-1.11, 1.19, 0.9),
    (-0.86, 1.18, 1.0), (-0.61, 1.17, 0.9), (-0.31, 1.19, 1.0), (0.31, 1.18, 0.9), (0.56, 1.17, 1.0), (0.81, 1.19, 0.9),
    (1.06, 1.18, 1.0), (1.31, 1.17, 0.9), (1.56, 1.19, 1.0), (1.81, 1.18, 0.9), (2.06, 1.17, 1.0), (2.31, 1.19, 0.9),
]

FC_CUT = 0.585   # log2(1.5)
P_CUT = 1.301    # -log10(0.05)

W, H = 2659, 2546
fig = plt.figure(figsize=(W / 100, H / 100), dpi=100)

# overlay in pixel units for titles, labels and the hand-made legends
ov = fig.add_axes([0, 0, 1, 1], zorder=5)
ov.set_xlim(0, W)
ov.set_ylim(H, 0)
ov.axis('off')


def vip_size(v):
    return 250 + 570 * v


def volcano(rect, up, dw, no, xlim, ylim, xticks, yticks):
    ax = fig.add_axes(rect)
    for pts, col in ((no, GREY), (dw, GREEN), (up, RED)):
        ax.scatter([p[0] for p in pts], [p[1] for p in pts],
                   s=[vip_size(p[2]) for p in pts], c=col, alpha=0.6,
                   edgecolors='none', zorder=2)
    ls = dict(color='#ADADAD', lw=1.8, dashes=(5, 3, 1, 3), zorder=1)
    ax.axvline(-FC_CUT, **ls)
    ax.axvline(FC_CUT, **ls)
    ax.axhline(P_CUT, **ls)
    ax.set_xlim(*xlim)
    ax.set_ylim(*ylim)
    ax.set_xticks(xticks)
    ax.set_yticks(yticks)
    ax.tick_params(direction='out', length=6, width=1.1, color='#333333',
                   labelsize=24, labelcolor='#4D4D4D', pad=7)
    for sp in ax.spines.values():
        sp.set_color('#333333')
        sp.set_linewidth(1.2)
    return ax


volcano([0.0711, 0.5487, 0.3313, 0.4093], a_up, a_dw, a_no + a_core, (-7.7, 7.7), (-0.27, 5.93), [-4, 0, 4], [0, 2, 4])
volcano([0.5713, 0.5487, 0.3310, 0.4093], b_up, b_dw, b_no + b_core + b_core2, (-6.57, 6.57), (-0.21, 4.63), [-6, -3, 0, 3, 6], [0, 1, 2, 3, 4])
volcano([0.0782, 0.0534, 0.3313, 0.4081], c_up, c_dw, c_no + c_core + c_core2, (-7.7, 7.7), (-0.27, 5.91), [-4, 0, 4], [0, 2, 4])
volcano([0.5555, 0.0534, 0.3306, 0.4081], d_up, d_dw, d_no + d_core + d_core2, (-6.57, 6.57), (-0.22, 4.77), [-6, -3, 0, 3, 6], [0, 1, 2, 3, 4])

# panel letters, titles, axis labels
panels = [
    ('A', 29, 81, 189, 78, 'L8T.vs.L8CK', 629, 1224, 119, 628),
    ('B', 1391, 81, 1519, 78, 'L8T.vs.L8CK', 1959, 1224, 1448, 628),
    ('C', 34, 1353, 208, 1339, 'QXT.vs.QXCK', 648, 2490, 139, 1890),
    ('D', 1386, 1353, 1477, 1339, 'QXT.vs.QXCK', 1916, 2490, 1405, 1890),
]
for letter, lx, ly, tx, ty, title, xlx, xly, ylx, yly in panels:
    ov.text(lx, ly, letter, family='Liberation Serif', fontsize=56, ha='left', va='baseline')
    ov.text(tx, ty, title, fontsize=34, ha='left', va='baseline')
    ov.text(xlx, xly, 'log2(fold change)', fontsize=29, ha='center', va='center')
    ov.text(ylx, yly, '\u2212log10(pvalue)', fontsize=29, ha='center', va='center', rotation=90)

# legends
meta_labels = ['UP', 'DW', 'NoDiff']
meta_colors = [RED, GREEN, GREY]
vip_breaks = ['0.5', '1.0', '1.5', '2.0']
vip_dot = [88, 133, 168, 207]


def meta_legend(x0, ytitle, ys):
    ov.text(x0, ytitle, 'DE_Meta', fontsize=29, ha='left', va='center')
    for lab, col, yy in zip(meta_labels, meta_colors, ys):
        ov.scatter([x0 + 27], [yy], s=30, c=col, edgecolors='none')
        ov.text(x0 + 83, yy, lab, fontsize=24, ha='left', va='center')


def vip_legend(x0, ytitle, ys):
    ov.text(x0, ytitle, 'VIP', fontsize=29, ha='left', va='center')
    for lab, sz, yy in zip(vip_breaks, vip_dot, ys):
        ov.scatter([x0 + 20], [yy], s=sz, c='black', edgecolors='none')
        ov.text(x0 + 83, yy, lab, fontsize=24, ha='left', va='center')


meta_legend(1133, 361, [431, 494, 557])
vip_legend(1133, 687, [759, 821, 884])
meta_legend(2461, 361, [431, 494, 557])
vip_legend(2461, 687, [759, 821, 884])
meta_legend(1152, 1624, [1692, 1755, 1818])
vip_legend(1152, 1950, [2020, 2082, 2145])
vip_legend(2419, 1592, [1661, 1724, 1787, 1850])
meta_legend(2419, 1982, [2052, 2114, 2177])

fig.savefig('out.png', dpi=100)
